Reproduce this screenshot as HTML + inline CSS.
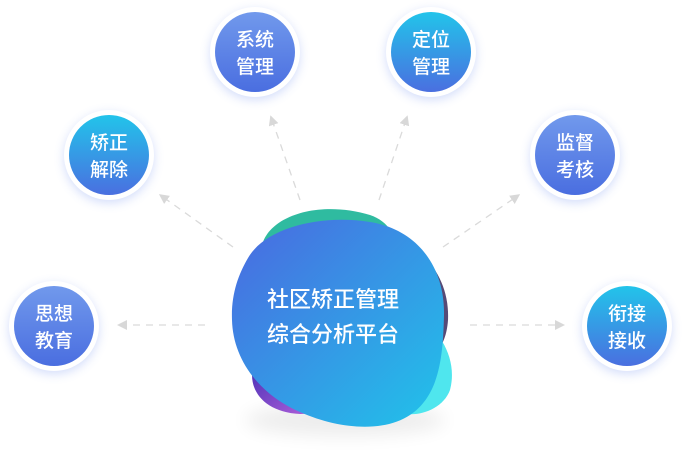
<!DOCTYPE html>
<html><head><meta charset="utf-8"><style>
html,body{margin:0;padding:0;background:#fff;width:687px;height:459px;overflow:hidden}
svg text{font-family:"Liberation Sans","Noto Sans CJK SC",sans-serif;fill:#fff;font-weight:500}
</style></head><body>
<svg width="687" height="459" viewBox="0 0 687 459" xmlns="http://www.w3.org/2000/svg">
<defs>
<linearGradient id="gp" x1="0" y1="0" x2="0" y2="1"><stop offset="0" stop-color="#7199ec"/><stop offset="1" stop-color="#4a6ee0"/></linearGradient>
<linearGradient id="gc" x1="0" y1="0" x2="0" y2="1"><stop offset="0" stop-color="#22c4ea"/><stop offset="1" stop-color="#4a6fe0"/></linearGradient>
<linearGradient id="gm" x1="0" y1="0" x2="1" y2="1"><stop offset="0" stop-color="#4b68e0"/><stop offset="1" stop-color="#20c4ea"/></linearGradient>
<linearGradient id="gv" x1="0" y1="0" x2="1" y2="1"><stop offset="0" stop-color="#3a2ab0"/><stop offset="1" stop-color="#c067e0"/></linearGradient>
<filter id="sh" x="-50%" y="-50%" width="200%" height="200%"><feGaussianBlur stdDeviation="5"/></filter>
<filter id="sh2" x="-50%" y="-50%" width="200%" height="200%"><feGaussianBlur stdDeviation="9"/></filter>
<marker id="ar" markerWidth="10" markerHeight="10" refX="5" refY="5" orient="auto" markerUnits="userSpaceOnUse"><path d="M0,0 L10,5 L0,10 Z" fill="#d8d8d8"/></marker>
</defs>
<g stroke="#dadada" stroke-width="1.3" stroke-dasharray="7,6" fill="none">
<line x1="205" y1="325" x2="122" y2="325" marker-end="url(#ar)"/>
<line x1="470" y1="325" x2="560" y2="325" marker-end="url(#ar)"/>
<line x1="233" y1="247" x2="163" y2="197" marker-end="url(#ar)"/>
<line x1="300" y1="200" x2="272" y2="120" marker-end="url(#ar)"/>
<line x1="379" y1="200" x2="406" y2="120" marker-end="url(#ar)"/>
<line x1="443" y1="247" x2="516" y2="197" marker-end="url(#ar)"/>
</g>
<ellipse cx="345" cy="420" rx="100" ry="16" fill="#000" opacity="0.07" filter="url(#sh2)"/>
<path d="M262,245 C270,215 320,200 370,215 C400,225 405,260 395,300 L290,300 Z" fill="#2fbba0"/>
<path d="M370,225 C420,240 450,275 448,320 C446,350 430,360 420,360 L380,300 Z" fill="#564a76"/>
<path d="M420,320 C440,330 458,360 450,390 C442,412 410,420 395,410 L400,340 Z" fill="#4fe6ee"/>
<path d="M255,360 C245,385 260,412 300,414 C330,414 340,400 330,380 L280,350 Z" fill="url(#gv)"/>
<path d="M248,258 C265,228 320,214 370,222 C420,230 445,270 444,315 C443,355 440,395 410,415 C385,432 340,430 300,412 C260,395 233,360 232,320 C231,295 238,275 248,258 Z" fill="url(#gm)"/>
<text x="333" y="307" font-size="22" text-anchor="middle">社区矫正管理</text>
<text x="333" y="342" font-size="22" text-anchor="middle">综合分析平台</text>
<g>
<circle cx="255" cy="55" r="45" fill="#6e8ef0" opacity="0.3" filter="url(#sh)"/>
<circle cx="255" cy="52" r="45" fill="#fff"/><circle cx="255" cy="52" r="40" fill="url(#gp)"/>
<text x="255" y="46" font-size="19" text-anchor="middle">系统</text><text x="255" y="73" font-size="19" text-anchor="middle">管理</text>

<circle cx="431" cy="55" r="45" fill="#6e8ef0" opacity="0.3" filter="url(#sh)"/>
<circle cx="431" cy="52" r="45" fill="#fff"/><circle cx="431" cy="52" r="40" fill="url(#gc)"/>
<text x="431" y="46" font-size="19" text-anchor="middle">定位</text><text x="431" y="73" font-size="19" text-anchor="middle">管理</text>

<circle cx="109" cy="158" r="45" fill="#6e8ef0" opacity="0.3" filter="url(#sh)"/>
<circle cx="109" cy="155" r="45" fill="#fff"/><circle cx="109" cy="155" r="40" fill="url(#gc)"/>
<text x="109" y="149" font-size="19" text-anchor="middle">矫正</text><text x="109" y="176" font-size="19" text-anchor="middle">解除</text>

<circle cx="575" cy="158" r="45" fill="#6e8ef0" opacity="0.3" filter="url(#sh)"/>
<circle cx="575" cy="155" r="45" fill="#fff"/><circle cx="575" cy="155" r="40" fill="url(#gp)"/>
<text x="575" y="149" font-size="19" text-anchor="middle">监督</text><text x="575" y="176" font-size="19" text-anchor="middle">考核</text>

<circle cx="54" cy="329" r="45" fill="#6e8ef0" opacity="0.3" filter="url(#sh)"/>
<circle cx="54" cy="326" r="45" fill="#fff"/><circle cx="54" cy="326" r="40" fill="url(#gp)"/>
<text x="54" y="320" font-size="19" text-anchor="middle">思想</text><text x="54" y="347" font-size="19" text-anchor="middle">教育</text>

<circle cx="627" cy="329" r="45" fill="#6e8ef0" opacity="0.3" filter="url(#sh)"/>
<circle cx="627" cy="326" r="45" fill="#fff"/><circle cx="627" cy="326" r="40" fill="url(#gc)"/>
<text x="627" y="320" font-size="19" text-anchor="middle">衔接</text><text x="627" y="347" font-size="19" text-anchor="middle">接收</text>
</g>
</svg>
</body></html>
